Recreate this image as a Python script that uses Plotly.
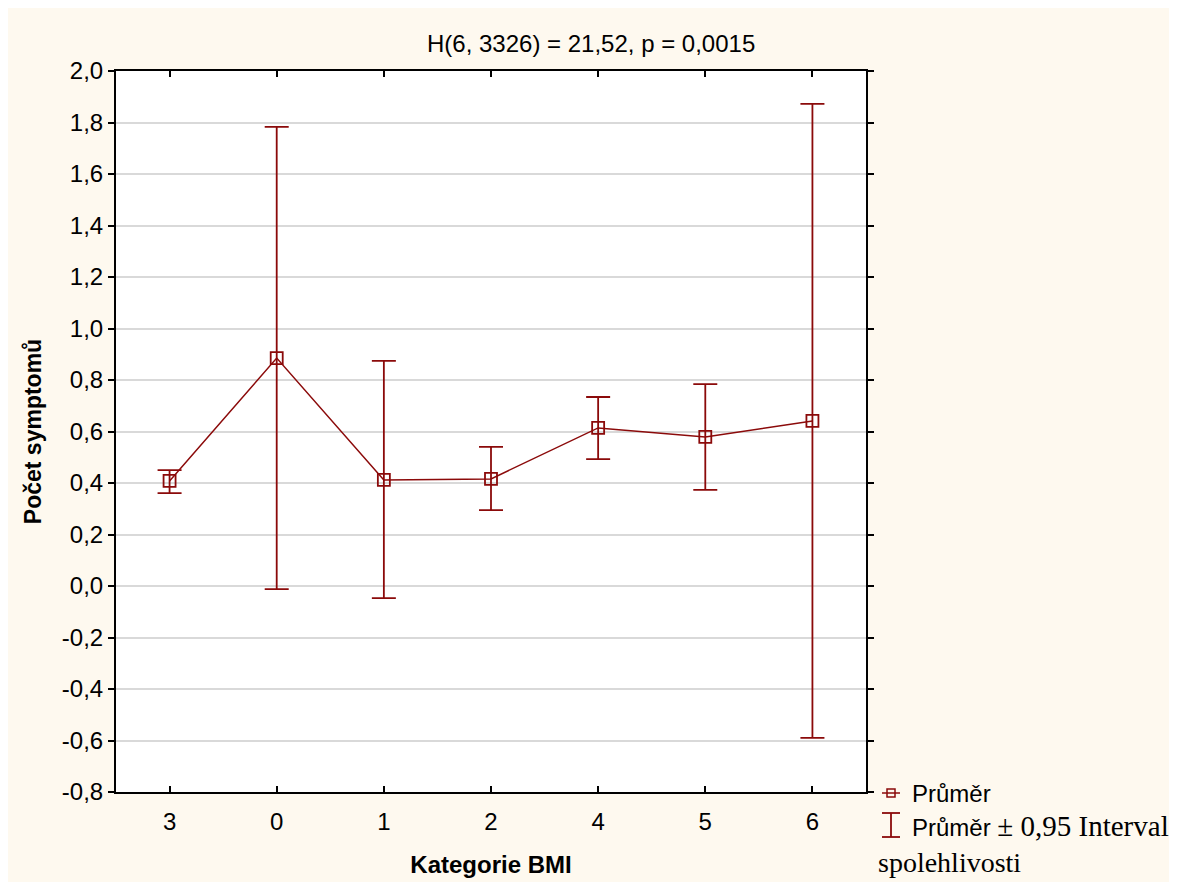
import plotly.graph_objects as go

categories = ["3", "0", "1", "2", "4", "5", "6"]
means = [0.408, 0.885, 0.412, 0.416, 0.614, 0.579, 0.641]
ci_upper = [0.450, 1.783, 0.874, 0.540, 0.734, 0.784, 1.872]
ci_lower = [0.361, -0.012, -0.047, 0.295, 0.493, 0.373, -0.590]
y_ticks = [-0.8, -0.6, -0.4, -0.2, 0.0, 0.2, 0.4, 0.6, 0.8, 1.0, 1.2, 1.4, 1.6, 1.8, 2.0]
y_ticktext = ["-0,8", "-0,6", "-0,4", "-0,2", "0,0", "0,2", "0,4", "0,6", "0,8",
              "1,0", "1,2", "1,4", "1,6", "1,8", "2,0"]

RED = "#8B0A0A"
CREAM = "#FEF9EF"
OFF = 8  # page body margin
W, H = 1177, 882
L, T = 116 - OFF, 71 - OFF
R, B = W - (866 - OFF), H - (792 - OFF)
PW, PH = W - L - R, H - T - B

SANS = "Liberation Sans, Arial"
SERIF = "Liberation Serif, Times New Roman"


def px(x):
    return (x - OFF - L) / PW


def py(y):
    return (H - B - (y - OFF)) / PH


err_plus = [u - m for u, m in zip(ci_upper, means)]
err_minus = [m - l for m, l in zip(means, ci_lower)]

fig = go.Figure()
fig.add_trace(go.Scatter(
    x=categories, y=means, mode="lines+markers", name="Průměr",
    line=dict(color=RED, width=1.5),
    marker=dict(symbol="square-open", size=12, color=RED, line=dict(width=1.8, color=RED)),
    error_y=dict(type="data", symmetric=False, array=err_plus, arrayminus=err_minus,
                 color=RED, thickness=1.8, width=12),
    showlegend=False,
))

shapes = [
    # legend symbol 1: line with square
    dict(type="line", xref="paper", yref="paper", x0=px(882), x1=px(900), y0=py(793), y1=py(793),
         line=dict(color=RED, width=1.5)),
    dict(type="rect", xref="paper", yref="paper", x0=px(887), x1=px(895), y0=py(797), y1=py(789),
         line=dict(color=RED, width=1.5), fillcolor="rgba(0,0,0,0)"),
    # legend symbol 2: error bar
    dict(type="line", xref="paper", yref="paper", x0=px(891), x1=px(891), y0=py(837), y1=py(813),
         line=dict(color=RED, width=1.8)),
    dict(type="line", xref="paper", yref="paper", x0=px(882), x1=px(900), y0=py(813), y1=py(813),
         line=dict(color=RED, width=1.8)),
    dict(type="line", xref="paper", yref="paper", x0=px(882), x1=px(900), y0=py(837), y1=py(837),
         line=dict(color=RED, width=1.8)),
]

annotations = [
    dict(text="H(6, 3326) = 21,52, p = 0,0015", xref="paper", yref="paper",
         x=px(591), y=py(43), showarrow=False, xanchor="center", yanchor="middle",
         font=dict(family=SANS, size=24, color="black")),
    dict(text="Průměr", xref="paper", yref="paper", x=px(910), y=py(793), showarrow=False,
         xanchor="left", yanchor="middle",
         font=dict(family=SANS, size=24, color="black")),
    dict(text="Průměr <span style='font-family:Liberation Serif, Times New Roman; font-size:29px'>± 0,95 Interval</span>",
         xref="paper", yref="paper", x=px(910), y=py(826), showarrow=False,
         xanchor="left", yanchor="middle",
         font=dict(family=SANS, size=24, color="black")),
    dict(text="spolehlivosti", xref="paper", yref="paper", x=px(876), y=py(862), showarrow=False,
         xanchor="left", yanchor="middle",
         font=dict(family=SERIF, size=28, color="black")),
]

fig.update_layout(
    width=W, height=H,
    margin=dict(l=L, r=R, t=T, b=B, pad=0),
    paper_bgcolor=CREAM, plot_bgcolor="white",
    font=dict(family=SANS, size=24, color="black"),
    shapes=shapes, annotations=annotations,
    xaxis=dict(
        type="category", categoryorder="array", categoryarray=categories,
        range=[-0.5, len(categories) - 0.5],
        showgrid=False, zeroline=False,
        showline=True, linecolor="black", linewidth=2, mirror="ticks",
        ticks="inside", ticklen=6, tickcolor="black", tickwidth=1.5,
        tickfont=dict(size=24), ticklabelstandoff=7,
        title=dict(text="<b>Kategorie BMI</b>", font=dict(size=24), standoff=22),
    ),
    yaxis=dict(
        range=[-0.8, 2.0], tickvals=y_ticks, ticktext=y_ticktext,
        showgrid=True, gridcolor="#D9D9D9", gridwidth=1.5, zeroline=False,
        showline=True, linecolor="black", linewidth=2, mirror="ticks",
        ticks="outside", ticklen=6, tickcolor="black", tickwidth=1.5,
        tickfont=dict(size=24),
        title=dict(text="<b>Počet symptomů</b>", font=dict(size=23), standoff=14),
    ),
)

fig.write_html("out.html", config={"displayModeBar": False})
